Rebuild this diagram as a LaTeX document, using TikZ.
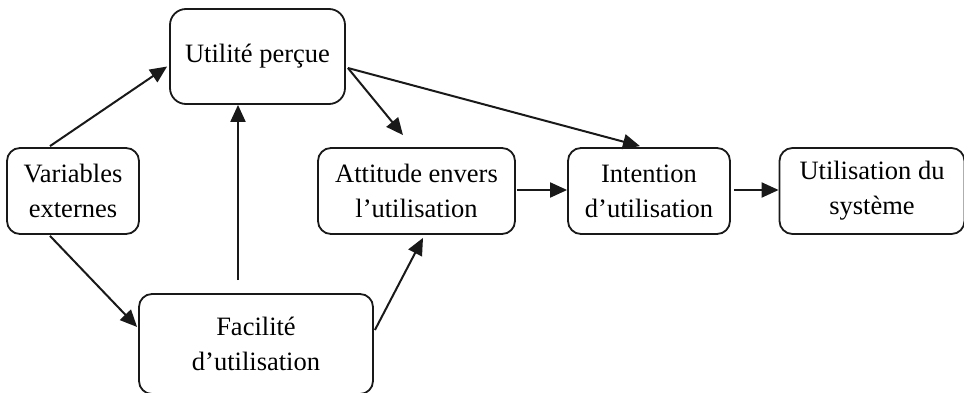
\documentclass[tikz,border=0pt]{standalone}
\usepackage{fontspec}
\setmainfont{Liberation Serif}
\usetikzlibrary{arrows.meta,calc}
\begin{document}
\begin{tikzpicture}[x=1pt,y=-1pt,
  box/.style={draw=black!90, line width=1.8pt, rounded corners=13pt, align=center,
    inner sep=0pt, font=\fontsize{26.5}{35}\selectfont},
  arr/.style={draw=black!90, line width=2pt, -{Triangle[length=17pt,width=15pt]}}]
\useasboundingbox (0,0) rectangle (964,393);
\node[box, minimum width=175pt, minimum height=95pt, rounded corners=16pt] (ut) at (257.5,56.5) {Utilité perçue};
\node[box, minimum width=132pt, minimum height=86pt] (var) at (73,191) {Variables\\externes};
\node[box, minimum width=197pt, minimum height=86pt] (att) at (416.5,191) {Attitude envers\\l’utilisation};
\node[box, minimum width=234pt, minimum height=100pt] (fac) at (256,344) {Facilité\\d’utilisation};
\node[box, minimum width=185pt, minimum height=86pt] (uti) at (872,191) {Utilisation du\\système};
\node[box, minimum width=162pt, minimum height=86pt] (int) at (649,191) {Intention\\d’utilisation};
\draw[arr] ($(var.north)+(-23,-1)$) -- ($(ut.west)+(-2,10)$);
\draw[arr] ($(var.south)+(-23,1)$) -- ($(fac.west)+(-1,-17)$);
\draw[arr] ($(fac.north)+(-18,-13)$) -- ($(ut.south)+(-19.5,0)$);
\draw[arr] ($(fac.east)+(1,-14)$) -- ($(att.south)+(6.5,3)$);
\draw[arr] ($(ut.east)+(2,11.5)$) -- ($(att.north)+(-13.5,-12)$);
\draw[arr] ($(ut.east)+(2,11.5)$) -- ($(int.north)+(-9,-1)$);
\draw[arr] ($(att.east)+(1,-1)$) -- ($(int.west)+(0,-1)$);
\draw[arr] ($(int.east)+(3,-1)$) -- ($(uti.west)+(0,-1)$);
\end{tikzpicture}
\end{document}
